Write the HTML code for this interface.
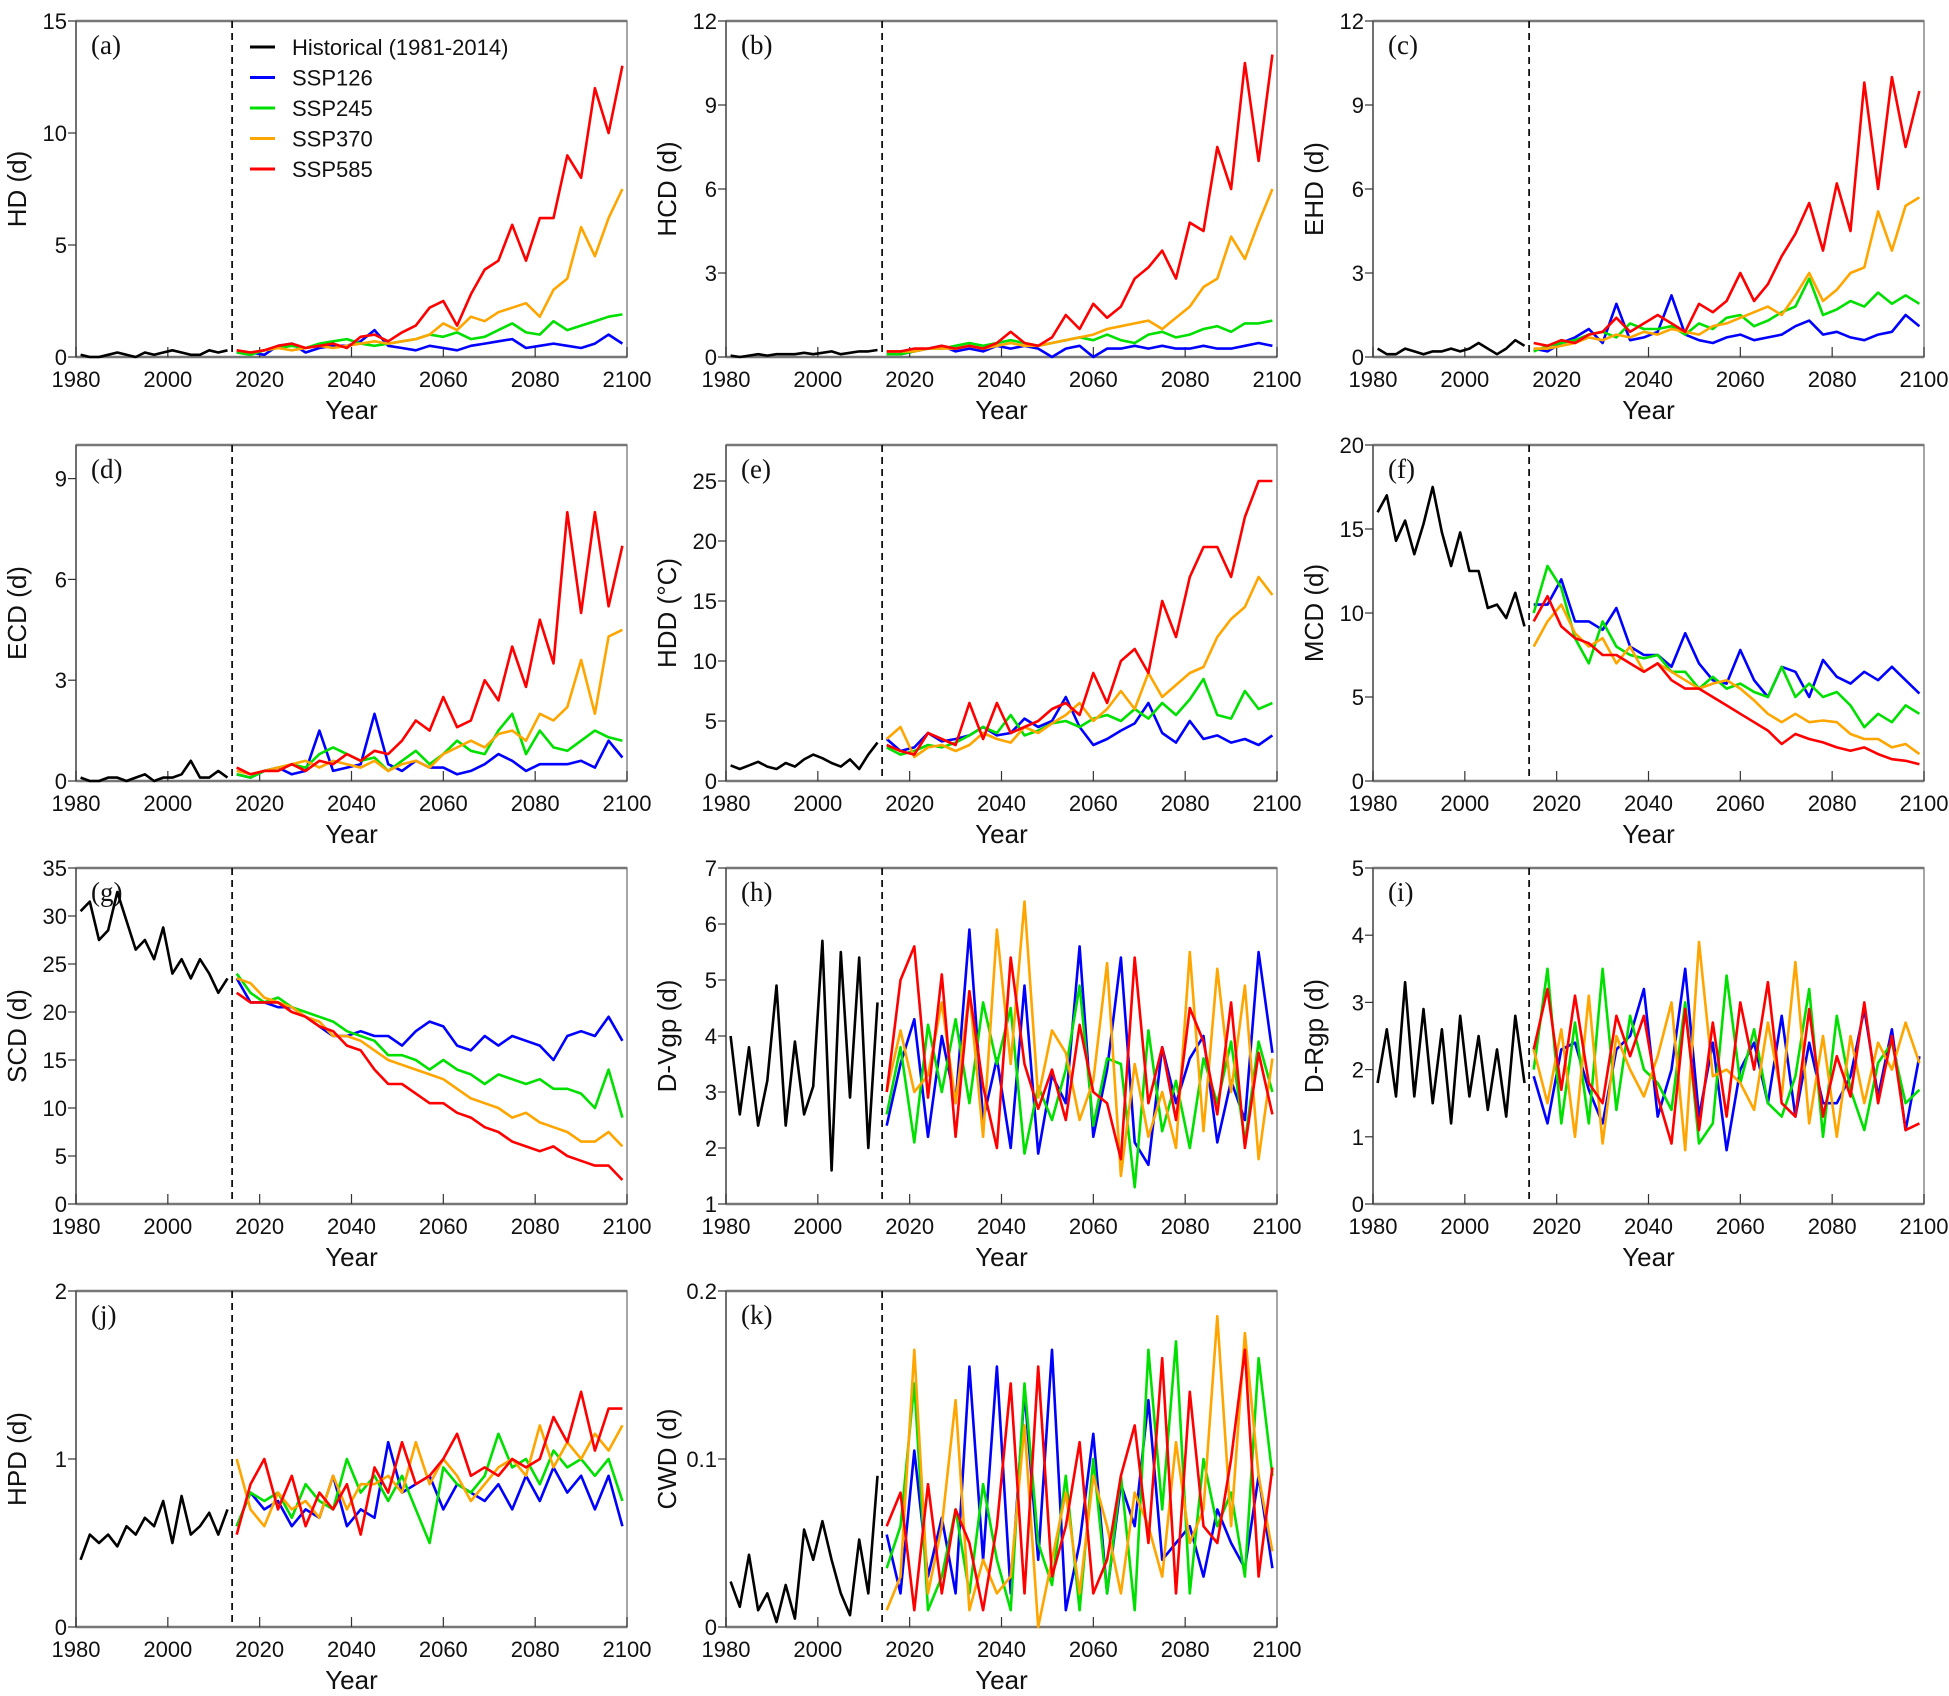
<!DOCTYPE html>
<html><head><meta charset="utf-8">
<style>
html,body{margin:0;padding:0;background:#fff;}
svg{display:block;font-family:"Liberation Sans",Arial,sans-serif;}
</style></head>
<body>
<svg id="fig" width="1949" height="1696" viewBox="0 0 1949 1696" xmlns="http://www.w3.org/2000/svg"></svg>
<script>
// ----- shared year arrays -----
const histYears = [1981,1983,1985,1987,1989,1991,1993,1995,1997,1999,2001,2003,2005,2007,2009,2011,2013];
const futYears = [2015,2018,2021,2024,2027,2030,2033,2036,2039,2042,2045,2048,2051,2054,2057,2060,2063,2066,2069,2072,2075,2078,2081,2084,2087,2090,2093,2096,2099];
const xTicks = [1980,2000,2020,2040,2060,2080,2100];
const seriesNames = ["SSP126","SSP245","SSP370","SSP585"];
const panelIds = ["a","b","c","d","e","f","g","h","i","j","k"];
const yLabels = ["HD (d)","HCD (d)","EHD (d)","ECD (d)","HDD (\u00B0C)","MCD (d)","SCD (d)","D-Vgp (d)","D-Rgp (d)","HPD (d)","CWD (d)"];
const yMax = [15,12,12,10,28,20,35,7,5,2,0.2];
const yMin = [0,0,0,0,0,0,0,1,0,0,0];
const yTickA = [0,5,10,15];
const yTickB = [0,3,6,9,12];
const yTickC = [0,3,6,9,12];
const yTickD = [0,3,6,9];
const yTickE = [0,5,10,15,20,25];
const yTickF = [0,5,10,15,20];
const yTickG = [0,5,10,15,20,25,30,35];
const yTickH = [1,2,3,4,5,6,7];
const yTickI = [0,1,2,3,4,5];
const yTickJ = [0,1,2];
const yTickK = [0,0.1,0.2];

// ----- panel (a) HD -----
const histA = [0.1,0,0,0.1,0.2,0.1,0,0.2,0.1,0.2,0.3,0.2,0.1,0.1,0.3,0.2,0.3];
const a126 = [0.2,0.2,0.1,0.5,0.6,0.2,0.4,0.5,0.5,0.7,1.2,0.5,0.4,0.3,0.5,0.4,0.3,0.5,0.6,0.7,0.8,0.4,0.5,0.6,0.5,0.4,0.6,1.0,0.6];
const a245 = [0.2,0.1,0.3,0.4,0.5,0.4,0.6,0.7,0.8,0.6,0.5,0.6,0.7,0.8,1.0,0.9,1.1,0.8,0.9,1.2,1.5,1.1,1.0,1.6,1.2,1.4,1.6,1.8,1.9];
const a370 = [0.3,0.2,0.3,0.4,0.3,0.4,0.5,0.4,0.5,0.6,0.7,0.6,0.7,0.8,1.0,1.5,1.2,1.8,1.6,2.0,2.2,2.4,1.8,3.0,3.5,5.8,4.5,6.2,7.5];
const a585 = [0.3,0.2,0.3,0.5,0.6,0.4,0.5,0.6,0.4,0.9,1.0,0.7,1.1,1.4,2.2,2.5,1.4,2.8,3.9,4.3,5.9,4.3,6.2,6.2,9.0,8.0,12.0,10.0,13.0];
// ----- panel (b) HCD -----
const histB = [0.05,0,0.05,0.1,0.05,0.1,0.1,0.1,0.15,0.1,0.15,0.2,0.1,0.15,0.2,0.2,0.25];
const b126 = [0.1,0.1,0.2,0.3,0.4,0.2,0.3,0.2,0.4,0.3,0.4,0.3,0.0,0.3,0.4,0.0,0.3,0.3,0.4,0.3,0.4,0.3,0.3,0.4,0.3,0.3,0.4,0.5,0.4];
const b245 = [0.1,0.1,0.2,0.3,0.3,0.4,0.5,0.4,0.5,0.6,0.5,0.4,0.5,0.6,0.7,0.6,0.8,0.6,0.5,0.8,0.9,0.7,0.8,1.0,1.1,0.9,1.2,1.2,1.3];
const b370 = [0.2,0.2,0.2,0.3,0.3,0.3,0.4,0.3,0.4,0.5,0.4,0.4,0.5,0.6,0.7,0.8,1.0,1.1,1.2,1.3,1.0,1.4,1.8,2.5,2.8,4.3,3.5,4.8,6.0];
const b585 = [0.2,0.2,0.3,0.3,0.4,0.3,0.4,0.3,0.5,0.9,0.5,0.4,0.7,1.5,1.0,1.9,1.4,1.8,2.8,3.2,3.8,2.8,4.8,4.5,7.5,6.0,10.5,7.0,10.8];
// ----- panel (c) EHD -----
const histC = [0.3,0.1,0.1,0.3,0.2,0.1,0.2,0.2,0.3,0.2,0.3,0.5,0.3,0.1,0.3,0.6,0.4];
const c126 = [0.3,0.2,0.5,0.7,1.0,0.5,1.9,0.6,0.7,0.9,2.2,0.8,0.6,0.5,0.7,0.8,0.6,0.7,0.8,1.1,1.3,0.8,0.9,0.7,0.6,0.8,0.9,1.5,1.1];
const c245 = [0.2,0.4,0.5,0.6,0.8,0.9,0.7,1.2,1.0,1.0,1.1,0.8,1.2,1.0,1.4,1.5,1.1,1.3,1.6,1.8,2.8,1.5,1.7,2.0,1.8,2.3,1.9,2.2,1.9];
const c370 = [0.3,0.3,0.4,0.5,0.7,0.6,0.8,0.7,0.9,0.8,1.0,0.9,0.8,1.1,1.2,1.4,1.6,1.8,1.5,2.2,3.0,2.0,2.4,3.0,3.2,5.2,3.8,5.4,5.7];
const c585 = [0.5,0.4,0.6,0.5,0.8,0.9,1.4,0.9,1.2,1.5,1.2,0.9,1.9,1.6,2.0,3.0,2.0,2.6,3.6,4.4,5.5,3.8,6.2,4.5,9.8,6.0,10.0,7.5,9.5];
// ----- panel (d) ECD -----
const histD = [0.1,0,0,0.1,0.1,0,0.1,0.2,0,0.1,0.1,0.2,0.6,0.1,0.1,0.3,0.1];
const d126 = [0.2,0.1,0.3,0.4,0.2,0.3,1.5,0.3,0.4,0.5,2.0,0.5,0.3,0.6,0.4,0.4,0.2,0.3,0.5,0.8,0.6,0.3,0.5,0.5,0.5,0.6,0.4,1.2,0.7];
const d245 = [0.2,0.1,0.3,0.4,0.5,0.4,0.8,1.0,0.8,0.6,0.7,0.3,0.6,0.9,0.5,0.8,1.2,0.9,0.8,1.5,2.0,0.8,1.5,1.0,0.9,1.2,1.5,1.3,1.2];
const d370 = [0.3,0.2,0.3,0.4,0.5,0.6,0.4,0.6,0.5,0.4,0.6,0.3,0.5,0.6,0.4,0.8,1.0,1.2,1.0,1.4,1.5,1.2,2.0,1.8,2.2,3.6,2.0,4.3,4.5];
const d585 = [0.4,0.2,0.3,0.3,0.5,0.3,0.6,0.5,0.8,0.6,0.9,0.8,1.2,1.8,1.5,2.5,1.6,1.8,3.0,2.4,4.0,2.8,4.8,3.5,8.0,5.0,8.0,5.2,7.0];
// ----- panel (e) HDD -----
const histE = [1.3,1.0,1.3,1.6,1.2,1.0,1.5,1.2,1.8,2.2,1.9,1.5,1.2,1.8,1.0,2.2,3.2];
const e126 = [3.5,2.5,2.8,4.0,3.3,3.5,3.8,4.5,3.8,4.0,5.2,4.5,5.0,7.0,4.5,3.0,3.5,4.2,4.8,6.5,4.0,3.2,5.0,3.5,3.8,3.2,3.5,3.0,3.8];
const e245 = [2.8,2.2,2.5,3.0,2.8,3.2,3.8,4.5,4.0,5.5,3.8,4.2,4.8,5.0,4.5,5.2,5.5,5.0,6.0,5.2,6.5,5.5,6.8,8.5,5.5,5.2,7.5,6.0,6.5];
const e370 = [3.5,4.5,2.0,2.8,3.0,2.5,3.0,4.0,3.5,3.2,4.5,4.0,4.8,5.5,6.5,5.0,6.0,7.5,6.0,9.0,7.0,8.0,9.0,9.5,12.0,13.5,14.5,17.0,15.5];
const e585 = [3.0,2.5,2.2,4.0,3.5,3.0,6.5,3.5,6.5,4.0,4.5,5.0,6.0,6.5,5.5,9.0,6.5,10.0,11.0,9.0,15.0,12.0,17.0,19.5,19.5,17.0,22.0,25.0,25.0];
// ----- panel (f) MCD -----
const histF = [16,17,14.3,15.5,13.5,15.3,17.5,14.8,12.8,14.8,12.5,12.5,10.3,10.5,9.7,11.2,9.2];
const f126 = [10.5,10.5,12,9.5,9.5,9.0,10.3,8.0,7.5,7.5,6.8,8.8,7.0,6.0,5.8,7.8,6.0,5.0,6.8,6.5,5.0,7.2,6.2,5.8,6.5,6.0,6.8,6.0,5.2];
const f245 = [10,12.8,11.5,8.5,7.0,9.5,8.0,7.5,7.3,7.5,6.5,6.5,5.5,6.2,5.5,5.8,5.3,5.0,6.8,5.0,5.8,5.0,5.3,4.5,3.2,4.0,3.5,4.5,4.0];
const f370 = [8.0,9.5,10.5,8.8,8.0,8.5,7.0,8.0,6.5,7.0,6.5,6.0,5.5,5.8,6.0,5.5,4.8,4.0,3.5,4.0,3.5,3.6,3.5,2.8,2.5,2.5,2.0,2.2,1.6];
const f585 = [9.5,11.0,9.2,8.5,8.2,7.5,7.5,7.0,6.5,7.0,6.0,5.5,5.5,5.0,4.5,4.0,3.5,3.0,2.2,2.8,2.5,2.3,2.0,1.8,2.0,1.6,1.3,1.2,1.0];
// ----- panel (g) SCD -----
const histG = [30.5,31.5,27.5,28.5,32.5,29.5,26.5,27.5,25.5,28.8,24,25.5,23.5,25.5,24,22,23.5];
const g126 = [23.5,21,21,20.5,20.5,19.5,18.5,17.5,17.5,18,17.5,17.5,16.5,18,19,18.5,16.5,16,17.5,16.5,17.5,17,16.5,15,17.5,18,17.5,19.5,17];
const g245 = [24,22,21,21.5,20.5,20,19.5,19,18,17.5,17,15.5,15.5,15,14,15,14,13.5,12.5,13.5,13,12.5,13,12,12,11.5,10,14,9];
const g370 = [23.5,23,21.5,21,20.5,19.5,19,17.5,17.5,17,16,15,14.5,14,13.5,13,12,11,10.5,10,9,9.5,8.5,8,7.5,6.5,6.5,7.5,6];
const g585 = [22,21,21,21,20,19.5,18.5,18,16.5,16,14,12.5,12.5,11.5,10.5,10.5,9.5,9,8,7.5,6.5,6,5.5,6,5,4.5,4,4,2.5];
// ----- panel (h) D-Vgp -----
const histH = [4,2.6,3.8,2.4,3.2,4.9,2.4,3.9,2.6,3.1,5.7,1.6,5.5,2.9,5.4,2,4.6];
const h126 = [2.4,3.5,4.3,2.2,4.0,2.8,5.9,2.5,3.6,2.0,4.9,1.9,3.3,2.8,5.6,2.2,3.4,5.4,2.1,1.7,3.8,2.8,3.6,4.0,2.1,3.2,2.5,5.5,3.7];
const h245 = [2.6,3.8,2.1,4.2,3.0,4.3,2.8,4.6,3.5,4.5,1.9,3.1,2.5,3.4,4.9,2.4,3.6,3.5,1.3,4.1,2.3,3.2,2.0,3.6,2.8,3.9,2.1,3.9,3.0];
const h370 = [3.0,4.1,3.0,3.3,4.6,2.8,4.8,2.2,5.9,3.5,6.4,2.9,4.1,3.7,2.5,3.2,5.3,1.5,3.5,2.2,3.0,2.0,5.5,2.3,5.2,3.0,4.9,1.8,3.6];
const h585 = [3.0,5.0,5.6,2.9,5.1,2.2,4.8,3.1,2.0,5.4,3.5,2.7,3.4,2.5,4.2,3.0,2.8,1.8,5.4,2.8,3.8,2.5,4.5,3.9,2.6,4.6,2.0,3.7,2.6];
// ----- panel (i) D-Rgp -----
const histI = [1.8,2.6,1.6,3.3,1.6,2.9,1.5,2.6,1.2,2.8,1.6,2.5,1.4,2.3,1.3,2.8,1.8];
const i126 = [1.9,1.2,2.3,2.4,1.7,1.2,2.3,2.5,3.2,1.3,2.0,3.5,1.3,2.4,0.8,2.0,2.4,1.5,2.8,1.3,2.4,1.5,1.5,1.9,2.9,1.6,2.6,1.1,2.2];
const i245 = [2.0,3.5,1.2,2.7,1.2,3.5,1.4,2.8,2.0,1.8,1.4,3.0,0.9,1.2,3.4,1.8,2.6,1.5,1.3,1.9,3.2,1.0,2.8,1.7,1.1,2.1,2.4,1.5,1.7];
const i370 = [2.3,1.5,2.6,1.0,3.1,0.9,2.5,2.0,1.6,2.2,3.0,0.8,3.9,1.9,2.0,1.8,1.4,2.7,1.6,3.6,1.2,2.5,1.0,2.5,1.5,2.4,2.0,2.7,2.1];
const i585 = [2.3,3.2,1.7,3.1,1.8,1.5,2.8,2.2,2.8,1.6,0.9,2.9,1.1,2.7,1.3,3.0,2.0,3.3,1.5,1.3,2.9,1.3,2.2,1.6,3.0,1.5,2.5,1.1,1.2];
// ----- panel (j) HPD -----
const histJ = [0.4,0.55,0.5,0.55,0.48,0.6,0.55,0.65,0.6,0.75,0.5,0.78,0.55,0.6,0.68,0.55,0.7];
const j126 = [0.6,0.8,0.7,0.75,0.6,0.7,0.65,0.9,0.6,0.7,0.65,1.1,0.8,0.85,0.9,0.7,0.85,0.8,0.75,0.85,0.7,0.9,0.75,0.95,0.8,0.9,0.7,0.9,0.6];
const j245 = [0.6,0.8,0.75,0.8,0.65,0.85,0.75,0.7,1.0,0.8,0.9,0.75,0.9,0.7,0.5,0.95,0.85,0.8,0.9,1.15,0.95,1.0,0.85,1.05,0.95,1.0,0.9,1.0,0.75];
const j370 = [1.0,0.7,0.6,0.8,0.7,0.75,0.65,0.9,0.7,0.85,0.85,0.9,0.8,1.1,0.85,1.0,0.9,0.75,0.85,0.95,1.0,0.9,1.2,0.95,1.1,1.0,1.15,1.05,1.2];
const j585 = [0.55,0.85,1.0,0.7,0.9,0.6,0.8,0.7,0.85,0.55,0.95,0.8,1.1,0.85,0.9,1.0,1.15,0.9,0.95,0.9,1.0,0.95,1.0,1.25,1.1,1.4,1.05,1.3,1.3];
// ----- panel (k) CWD -----
const histK = [0.027,0.012,0.043,0.01,0.02,0.003,0.025,0.005,0.058,0.04,0.063,0.04,0.02,0.007,0.052,0.02,0.09];
const k126 = [0.055,0.02,0.105,0.03,0.065,0.02,0.155,0.04,0.155,0.02,0.14,0.04,0.165,0.01,0.05,0.115,0.02,0.085,0.06,0.135,0.04,0.05,0.06,0.03,0.07,0.05,0.035,0.09,0.035];
const k245 = [0.035,0.06,0.145,0.01,0.03,0.07,0.02,0.085,0.04,0.01,0.145,0.05,0.025,0.09,0.01,0.1,0.02,0.09,0.01,0.165,0.07,0.17,0.02,0.1,0.06,0.08,0.03,0.16,0.09];
const k370 = [0.01,0.03,0.165,0.02,0.06,0.135,0.01,0.04,0.02,0.03,0.12,0.0,0.04,0.08,0.02,0.09,0.06,0.02,0.08,0.06,0.03,0.11,0.05,0.07,0.185,0.06,0.175,0.09,0.045];
const k585 = [0.06,0.08,0.01,0.085,0.02,0.07,0.05,0.01,0.06,0.145,0.02,0.155,0.03,0.06,0.11,0.02,0.04,0.09,0.12,0.05,0.16,0.02,0.14,0.06,0.05,0.1,0.165,0.03,0.095];

const histAll = [histA,histB,histC,histD,histE,histF,histG,histH,histI,histJ,histK];
const futAll = [[a126,a245,a370,a585],[b126,b245,b370,b585],[c126,c245,c370,c585],[d126,d245,d370,d585],[e126,e245,e370,e585],[f126,f245,f370,f585],[g126,g245,g370,g585],[h126,h245,h370,h585],[i126,i245,i370,i585],[j126,j245,j370,j585],[k126,k245,k370,k585]];
const yTicksAll = [yTickA,yTickB,yTickC,yTickD,yTickE,yTickF,yTickG,yTickH,yTickI,yTickJ,yTickK];

const colors = ["#0000ff","#00e000","#ffa500","#ff0000"];
const NS = "http://www.w3.org/2000/svg";
const svg = document.getElementById("fig");
const colX = [76, 726, 1373];
const rowY = [21, 445, 868, 1291];
const PW = 551, PH = 336;

function mk(tag, attrs, parent){
  const e = document.createElementNS(NS, tag);
  for (const k in attrs) e.setAttribute(k, attrs[k]);
  (parent||svg).appendChild(e);
  return e;
}
function fmt(v){ return (Math.abs(v) < 1 && v !== 0) ? String(v) : String(v); }

panelIds.forEach((pid, p) => {
  const x0 = colX[p % 3], y0 = rowY[Math.floor(p / 3)];
  const ymin = yMin[p], ymax = yMax[p];
  const sx = yr => x0 + (yr - 1980) / 120 * PW;
  const sy = v => y0 + PH - (v - ymin) / (ymax - ymin) * PH;
  const g = mk("g", {});
  
  

  // frame
  const fr = mk("rect", {x:x0, y:y0, width:PW, height:PH, fill:"none", stroke:"#888", "stroke-width":1.5}, g);
  
  
  mk("line", {x1:x0, y1:y0, x2:x0+PW, y2:y0, stroke:"#777", "stroke-width":2.5}, g);
  mk("line", {x1:x0, y1:y0+PH, x2:x0+PW, y2:y0+PH, stroke:"#777", "stroke-width":2.5}, g);
  mk("line", {x1:x0, y1:y0, x2:x0, y2:y0+PH, stroke:"#555", "stroke-width":1.5}, g);

  // x ticks
  xTicks.forEach(t => {
    const xx = sx(t);
    mk("line", {x1:xx, y1:y0+PH, x2:xx, y2:y0+PH-10, stroke:"#333", "stroke-width":1.2}, g);
    const tl = mk("text", {x:xx, y:y0+PH+30, "text-anchor":"middle", "font-size":22, fill:"#111"}, g);
    tl.textContent = t;
    
    
  });
  const xl = mk("text", {x:x0+PW/2, y:y0+PH+62, "text-anchor":"middle", "font-size":26, fill:"#111"}, g);
  xl.textContent = "Year";
  
  

  // y ticks
  yTicksAll[p].forEach(t => {
    const yy = sy(t);
    mk("line", {x1:x0-8, y1:yy, x2:x0, y2:yy, stroke:"#333", "stroke-width":1.2}, g);
    const tl = mk("text", {x:x0-9, y:yy+8, "text-anchor":"end", "font-size":22, fill:"#111"}, g);
    tl.textContent = fmt(t);
    
    
  });
  const yl = mk("text", {x:0, y:0, "text-anchor":"middle", "font-size":26, fill:"#111",
    transform:"translate(" + (x0-50) + "," + (y0+PH/2) + ") rotate(-90)"}, g);
  yl.textContent = yLabels[p];
  
  

  // panel label
  const pl = mk("text", {x:x0+15, y:y0+33, "font-size":27, "font-family":"Liberation Serif, serif", fill:"#111"}, g);
  pl.textContent = "(" + pid + ")";
  
  

  // dashed 2014 line
  const dl = mk("line", {x1:sx(2014), y1:y0, x2:sx(2014), y2:y0+PH, stroke:"#111", "stroke-width":1.8, "stroke-dasharray":"7,5"}, g);
  
  

  // historical
  const hp = histYears.map((yr, i) => sx(yr).toFixed(1) + "," + sy(histAll[p][i]).toFixed(1)).join(" ");
  const hl = mk("polyline", {points:hp, fill:"none", stroke:"#000", "stroke-width":2.6, "stroke-linejoin":"round"}, g);
  
  

  // scenarios
  futAll[p].forEach((arr, s) => {
    const pts = futYears.map((yr, i) => sx(yr).toFixed(1) + "," + sy(arr[i]).toFixed(1)).join(" ");
    const l = mk("polyline", {points:pts, fill:"none", stroke:colors[s], "stroke-width":2.6, "stroke-linejoin":"round"}, g);
    
    
  });
});

// legend in panel (a)
const legendLabels = ["Historical (1981-2014)","SSP126","SSP245","SSP370","SSP585"];
const legendColors = ["#000","#0000ff","#00e000","#ffa500","#ff0000"];
const lg = mk("g", {});


legendLabels.forEach((lab, i) => {
  const yy = 47 + i * 30.5;
  const ln = mk("line", {x1:250, y1:yy, x2:275, y2:yy, stroke:legendColors[i], "stroke-width":3}, lg);
  
  
  const t = mk("text", {x:292, y:yy+8, "font-size":22, fill:"#111"}, lg);
  t.textContent = lab;
  
  
});
</script>
</body></html>
